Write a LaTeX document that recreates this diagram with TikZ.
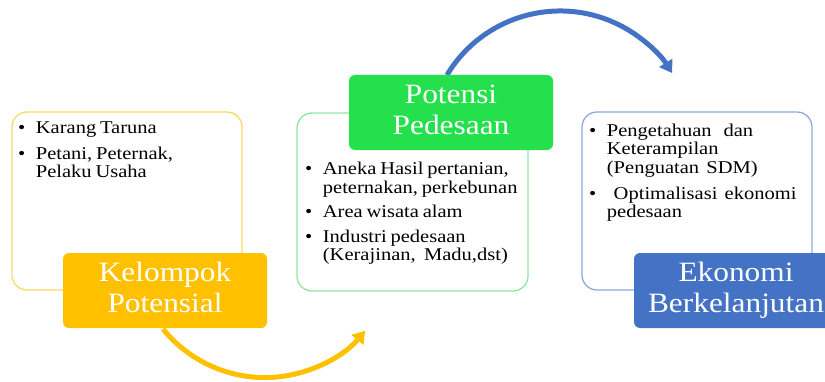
\documentclass[tikz,border=0pt]{standalone}
\usepackage{fontspec}
\usepackage{graphicx}
\setmainfont{Liberation Serif}
\usetikzlibrary{arrows.meta}
\definecolor{cgold}{HTML}{FFC000}
\definecolor{cgoldl}{HTML}{FFD966}
\definecolor{cgreen}{HTML}{24E04C}
\definecolor{cgreenl}{HTML}{8FE89B}
\definecolor{cblue}{HTML}{4472C4}
\definecolor{cbluel}{HTML}{8FAADC}
\newcommand\bitem[1]{\hangindent=15.5pt\hangafter=1\noindent\makebox[15.5pt][l]{\textbullet}#1\par}
\newcommand\twoline[2]{\scalebox{1.12}[1]{\begin{tabular}{@{}c@{}}#1\\#2\end{tabular}}}
\tikzset{
  outbox/.style={draw, rounded corners=15pt, line width=1.3pt, minimum width=230pt, minimum height=178pt, inner sep=0pt},
  labelbox/.style={rounded corners=6pt, minimum width=204pt, minimum height=75pt, text=white, font=\fontsize{28}{31}\selectfont, inner sep=0pt},
  listtext/.style={anchor=north west, inner sep=0pt, text width=#1, align=left, xscale=1.14, transform shape},
  flow/.style={line width=5pt, -{Triangle[length=12pt,width=15pt]}}
}
\begin{document}
\begin{tikzpicture}[x=1pt,y=1pt]
\useasboundingbox (0,0) rectangle (825,381);
% outline boxes
\node[outbox, cgoldl] (lbox) at (127,180) {};
\node[outbox, cgreenl, minimum width=231pt] (mbox) at (412.5,179) {};
\node[outbox, cbluel] (rbox) at (697,180) {};
% arrows
\coordinate (bs) at (447,306);
\draw[flow, cblue] (bs) arc[start angle=149, end angle=32, radius=132];
\coordinate (gs) at (163,52);
\draw[flow, cgold] (gs) arc[start angle=219, end angle=320, radius=131];
% label boxes
\node[labelbox, fill=cgold] (kp) at (165,90.5) {\twoline{Kelompok}{Potensial}};
\node[labelbox, fill=cgreen] (pp) at (451,268.5) {\twoline{Potensi}{Pedesaan}};
\node[labelbox, fill=cblue] (eb) at (736,90.5) {\twoline{Ekonomi}{Berkelanjutan}};
% lists
\node[listtext=190pt] (ltxt) at (18,259.5) {\fontsize{18}{17.5}\selectfont\setlength\parskip{0pt}%
\bitem{Karang Taruna}\vspace{9pt}
\bitem{Petani, Peternak,\newline Pelaku Usaha}};
\node[listtext=200pt] (mtxt) at (305,219) {\fontsize{18}{18.5}\selectfont\setlength\parskip{0pt}%
\bitem{Aneka Hasil pertanian,\newline peternakan, perkebunan}\vspace{6pt}
\bitem{Area wisata alam}\vspace{6pt}
\bitem{Industri pedesaan\newline (Kerajinan,\hspace{4pt} Madu,dst)}};
\node[listtext=200pt] (rtxt) at (589,257) {\fontsize{18}{18.3}\selectfont\setlength\parskip{0pt}%
\bitem{Pengetahuan\hspace{7pt} dan\newline Keterampilan\newline (Penguatan\hspace{3pt} SDM)}\vspace{8pt}
\bitem{\hspace*{6pt}Optimalisasi\hspace{3pt} ekonomi\newline pedesaan}};
\end{tikzpicture}
\end{document}
